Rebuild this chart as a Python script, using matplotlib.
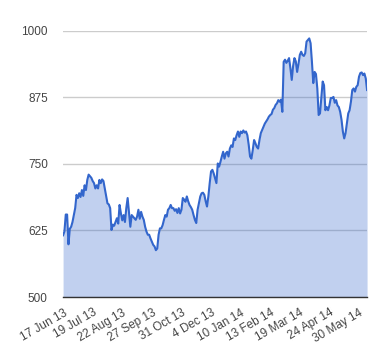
import numpy as np
import matplotlib
matplotlib.use('Agg')
import matplotlib.pyplot as plt

# closing price left to right
price = [
    616, 623, 655, 655, 599, 628, 632, 641, 654, 667, 692, 686, 695, 688, 701,
    690, 710, 701, 720, 730, 727, 724, 718, 714, 704, 710, 704, 720, 714, 721,
    718, 704, 690, 676, 674, 667, 626, 636, 634, 641, 648, 638, 673, 657, 644,
    654, 641, 667, 686, 660, 632, 654, 651, 648,
    645, 651, 664, 647, 660, 651, 645, 632, 623, 617, 617, 610, 604, 598, 595,
    588, 591, 617, 629, 629, 635, 645, 654, 651, 664, 667, 673, 667, 667, 662,
    665, 658, 667, 657, 664, 686, 683, 679, 689, 680, 673, 669, 664, 654, 645,
    639, 664, 676, 689, 695, 696, 692, 680, 670, 689, 714, 736, 739,
    732, 723, 714, 751, 745, 754, 764, 773, 760, 770, 773, 764, 779, 785, 782,
    798, 795, 804, 811, 801, 811, 808, 813, 809, 811, 804, 786, 764, 760, 776,
    795, 789, 782, 779, 795, 808, 814, 820, 826, 830, 834, 839, 842, 844, 852,
    855, 861, 864, 870, 867, 871, 848, 942, 946, 940, 944, 949,
    930, 908, 934, 949, 943, 923, 938, 955, 961, 955, 953, 958, 980, 983, 986,
    977, 942, 902, 923, 919, 892, 842, 845, 876, 905, 898, 851, 857, 851, 860,
    874, 874, 876, 865, 870, 860, 857, 848, 833, 811, 798, 808, 826, 845, 851,
    867, 889, 892, 886, 895, 898, 914, 921, 922, 917, 920, 911, 889,
]
date_labels = ['17 Jun 13', '19 Jul 13', '22 Aug 13', '27 Sep 13', '31 Oct 13',
               '4 Dec 13', '10 Jan 14', '13 Feb 14', '19 Mar 14', '24 Apr 14',
               '30 May 14']
y_ticks = [500, 625, 750, 875, 1000]

plt.rcParams['font.family'] = ['Liberation Sans', 'DejaVu Sans']

fig = plt.figure(figsize=(3.8, 3.6), dpi=100)
ax = fig.add_axes([0.166, 0.175, 0.8, 0.739])

x = np.arange(len(price))
ax.fill_between(x, 500, price, color='#3366cc', alpha=0.3, linewidth=0, zorder=2)
ax.plot(x, price, color='#3366cc', linewidth=1.5, zorder=3)

ax.set_ylim(500, 1000)
ax.set_xlim(0, len(price) - 1)

ax.set_yticks(y_ticks)
ax.set_yticklabels([str(v) for v in y_ticks])
ax.grid(axis='y', color='#cccccc', linewidth=1, zorder=1)
ax.set_axisbelow(True)

step = 22
ax.set_xticks(np.arange(len(date_labels)) * step)
ax.set_xticklabels(date_labels, rotation=30, ha='right', va='top',
                   rotation_mode='anchor')

ax.tick_params(axis='both', length=0, labelsize=8.5, colors='#444444')
ax.tick_params(axis='y', pad=11)
ax.tick_params(axis='x', pad=7)

for s in ['left', 'right', 'top']:
    ax.spines[s].set_visible(False)
ax.spines['bottom'].set_color('#333333')
ax.spines['bottom'].set_linewidth(1)
ax.spines['bottom'].set_zorder(4)

plt.savefig('out.png', dpi=100)
